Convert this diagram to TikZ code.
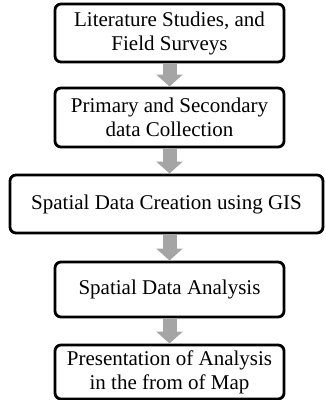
\documentclass[tikz,border=0pt]{standalone}
\usepackage{fontspec}
\setmainfont{Liberation Serif}
\usetikzlibrary{positioning}
\usetikzlibrary{arrows.meta}
\definecolor{flechagris}{RGB}{165,165,165}
\tikzset{
 etapa/.style={
 rectangle,
 rounded corners=6pt,
 draw=black, line width=2.8pt,
 outer sep=0pt,
 minimum width=229pt,
 minimum height=58pt,
 align=center,
 font=\fontsize{21}{24}\selectfont},
 flecha/.style={
 draw=flechagris, line width=14pt,
 -{Triangle[length=12pt,width=26pt]},
 shorten <=2pt, shorten >=1.5pt}
}
\begin{document}
\begin{tikzpicture}
 \useasboundingbox (0pt,0pt) rectangle (325pt,-400pt);

 \node[etapa] (literatura) at (169.5pt,-33pt) {Literature Studies, and\\Field Surveys};
 \node[etapa, below = 26pt of literatura, minimum height=59pt] (datos) {Primary and Secondary\\data Collection};
 \node[etapa, below = 28pt of datos, xshift=-3pt, minimum width=313pt] (creacion) {Spatial Data Creation using GIS};
 \node[etapa, below = 29pt of creacion, xshift=3pt, minimum height=55pt] (analisis) {Spatial Data Analysis};
 \node[etapa, below = 28pt of analisis, minimum height=54pt] (mapa) {Presentation of Analysis\\in the from of Map};

 \draw[flecha] (literatura) -- (datos);
 \draw[flecha] (datos) -- (datos |- creacion.north);
 \draw[flecha] (creacion.south -| analisis) -- (analisis);
 \draw[flecha] (analisis) -- (mapa);
\end{tikzpicture}
\end{document}
